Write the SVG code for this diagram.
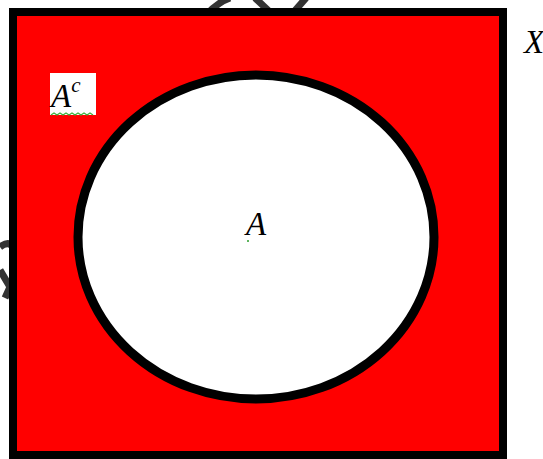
<svg xmlns="http://www.w3.org/2000/svg" width="543" height="459" viewBox="0 0 543 459">
<style>
.lbl{font-family:"Liberation Serif","DejaVu Serif",serif;font-style:italic;fill:#000}
.frag{fill:none;stroke:#333;stroke-width:7}
</style>
<rect width="543" height="459" fill="#fff"/>
<g id="fragments">
<path class="frag" d="M205,16 Q218,2 230,-2"/>
<path class="frag" d="M255,-2 L272,14"/>
<path class="frag" d="M292,14 L306,-2"/>
<path class="frag" d="M0,247 Q8,241 12,246"/>
<path class="frag" d="M0,270 L10,287 L5,298"/>
</g>
<g id="universe">
<rect x="13" y="12" width="490" height="443" fill="#ff0000" stroke="#000" stroke-width="8"/>
</g>
<g id="setA">
<ellipse cx="256" cy="237" rx="178" ry="162" fill="#fff" stroke="#000" stroke-width="9"/>
<text class="lbl" x="246" y="235" font-size="33">A</text>
<circle cx="248" cy="241" r="1" fill="#2a9d2a"/>
</g>
<g id="complement">
<rect x="50" y="73" width="46" height="42" fill="#fff"/>
<text class="lbl" x="51" y="107" font-size="33">A<tspan font-size="21" dy="-15">c</tspan></text>
<path d="M51,115 l3,-2 l3,2 l3,-2 l3,2 l3,-2 l3,2 l3,-2 l3,2 l3,-2 l3,2 l3,-2 l3,2 l3,-2 l3,2" fill="none" stroke="#3cb03c" stroke-width="1.2"/>
</g>
<g id="label-X">
<text class="lbl" x="524" y="53" font-size="33">X</text>
</g>
</svg>
